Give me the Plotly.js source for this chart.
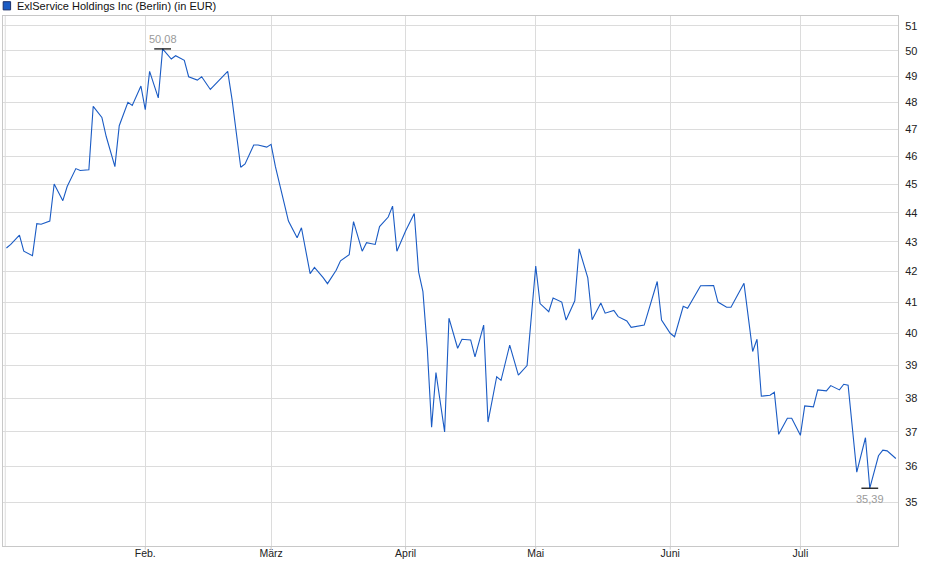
<!DOCTYPE html>
<html>
<head>
<meta charset="utf-8">
<script src="https://cdn.plot.ly/plotly-3.0.1.min.js"></script>
<style>
  html, body { margin: 0; padding: 0; background: #fff; }
  #chart { width: 940px; height: 579px; }
</style>
</head>
<body>
<div id="chart"></div>
<script>
// Kursdaten
const dates = [
  '2023-12-31','2024-01-01','2024-01-03','2024-01-04','2024-01-06','2024-01-07','2024-01-08','2024-01-10',
  '2024-01-11','2024-01-13','2024-01-14','2024-01-16','2024-01-17','2024-01-19','2024-01-20','2024-01-22',
  '2024-01-23','2024-01-25','2024-01-26','2024-01-28','2024-01-29','2024-01-31','2024-02-01','2024-02-02',
  '2024-02-04','2024-02-05','2024-02-07','2024-02-08','2024-02-10','2024-02-11','2024-02-13','2024-02-14',
  '2024-02-16','2024-02-20','2024-02-21','2024-02-23','2024-02-24','2024-02-26','2024-02-27','2024-02-29',
  '2024-03-01','2024-03-02','2024-03-04','2024-03-05','2024-03-07','2024-03-08','2024-03-10','2024-03-11',
  '2024-03-13','2024-03-14','2024-03-16','2024-03-17','2024-03-19','2024-03-20','2024-03-22','2024-03-23',
  '2024-03-25','2024-03-26','2024-03-28','2024-03-29','2024-03-30','2024-04-01','2024-04-03','2024-04-04',
  '2024-04-05','2024-04-06','2024-04-07','2024-04-08','2024-04-10','2024-04-11','2024-04-13','2024-04-14',
  '2024-04-16','2024-04-17','2024-04-19','2024-04-20','2024-04-22','2024-04-23','2024-04-25','2024-04-27',
  '2024-04-29','2024-05-01','2024-05-02','2024-05-04','2024-05-05','2024-05-07','2024-05-08','2024-05-10',
  '2024-05-11','2024-05-13','2024-05-14','2024-05-16','2024-05-17','2024-05-19','2024-05-20','2024-05-22',
  '2024-05-23','2024-05-24','2024-05-26','2024-05-29','2024-05-30','2024-06-01','2024-06-02','2024-06-04',
  '2024-06-05','2024-06-08','2024-06-11','2024-06-12','2024-06-14','2024-06-15','2024-06-17','2024-06-18',
  '2024-06-20','2024-06-21','2024-06-22','2024-06-24','2024-06-25','2024-06-26','2024-06-28','2024-06-29',
  '2024-07-01','2024-07-02','2024-07-04','2024-07-05','2024-07-07','2024-07-08','2024-07-10','2024-07-11',
  '2024-07-12','2024-07-14','2024-07-16','2024-07-17','2024-07-19','2024-07-20','2024-07-21','2024-07-23'
];
const prices = [
  42.79, 42.91, 43.23, 42.68, 42.53, 43.62, 43.60, 43.71,
  45.01, 44.42, 44.92, 45.56, 45.49, 45.52, 47.86, 47.44,
  46.73, 45.63, 47.13, 48.01, 47.89, 48.63, 47.73, 49.20,
  48.18, 50.08, 49.68, 49.81, 49.63, 48.99, 48.86, 48.99,
  48.50, 49.20, 48.12, 45.61, 45.73, 46.42, 46.42, 46.34,
  46.44, 45.63, 44.34, 43.71, 43.14, 43.48, 41.93, 42.14,
  41.80, 41.60, 42.04, 42.36, 42.56, 43.69, 42.68, 42.97,
  42.91, 43.52, 43.85, 44.23, 42.68, 43.37, 43.97, 41.99,
  41.34, 39.53, 37.14, 38.78, 37.00, 40.48, 39.53, 39.81,
  39.79, 39.26, 40.26, 37.29, 38.65, 38.54, 39.63, 38.70,
  38.99, 42.18, 40.95, 40.69, 41.13, 41.00, 40.42, 41.04,
  42.76, 41.79, 40.43, 40.97, 40.64, 40.73, 40.53, 40.39,
  40.19, 40.21, 40.26, 41.67, 40.42, 40.00, 39.89, 40.86,
  40.80, 41.53, 41.54, 41.00, 40.83, 40.83, 41.34, 41.61,
  39.43, 39.81, 38.06, 38.09, 38.18, 36.93, 37.40, 37.40,
  36.90, 37.77, 37.74, 38.25, 38.22, 38.38, 38.25, 38.42,
  38.39, 35.84, 36.83, 35.39, 36.31, 36.47, 36.45, 36.23
];

const monthTicks = ['2024-02-01','2024-03-01','2024-04-01','2024-05-01','2024-06-01','2024-07-01'];
const monthLabels = ['Feb.','März','April','Mai','Juni','Juli'];
const priceTicks = [35,36,37,38,39,40,41,42,43,44,45,46,47,48,49,50,51];
const seriesName = 'ExlService Holdings Inc (Berlin) (in EUR)';

const hiVal = Math.max(...prices);
const loVal = Math.min(...prices);
const hiDate = dates[prices.indexOf(hiVal)];
const loDate = dates[prices.indexOf(loVal)];
const fmt = v => v.toFixed(2).replace('.', ',');

const font = 'Liberation Sans, Arial, sans-serif';

const line = {
  type: 'scatter',
  mode: 'lines',
  x: dates,
  y: prices,
  line: {color: '#1a5bc4', width: 1.1},
  hoverinfo: 'x+y',
  showlegend: false
};

const extremes = {
  type: 'scatter',
  mode: 'markers',
  x: [hiDate, loDate],
  y: [hiVal, loVal],
  marker: {symbol: 'line-ew', size: 12, line: {width: 1.2, color: '#000'}},
  hoverinfo: 'skip',
  showlegend: false
};

const layout = {
  width: 940,
  height: 579,
  margin: {l: 3, r: 42, t: 16, b: 33},
  paper_bgcolor: '#fff',
  plot_bgcolor: '#fff',
  font: {family: font, size: 11, color: '#222'},
  xaxis: {
    type: 'date',
    range: ['2023-12-30 05:00', '2024-07-23 12:00'],
    tickvals: monthTicks,
    ticktext: monthLabels,
    showgrid: true,
    gridcolor: '#dcdcdc',
    gridwidth: 1,
    ticks: '',
    ticklabelstandoff: -3,
    showline: true,
    linecolor: '#c8c8c8',
    mirror: true,
    zeroline: false,
    tickfont: {family: font, size: 10.5, color: '#222'}
  },
  yaxis: {
    type: 'log',
    side: 'right',
    range: [Math.log10(33.81), Math.log10(51.40)],
    tickvals: priceTicks,
    ticktext: priceTicks.map(String),
    showgrid: true,
    gridcolor: '#dcdcdc',
    gridwidth: 1,
    ticks: '',
    ticklabelstandoff: 4,
    showline: true,
    linecolor: '#c8c8c8',
    mirror: true,
    zeroline: false,
    tickfont: {family: font, size: 11, color: '#222'}
  },
  shapes: [
    // Legendenkästchen
    {type: 'rect', xref: 'paper', yref: 'paper',
     x0: 0.0002, x1: 0.0085, y0: 1.0115, y1: 1.0270,
     fillcolor: '#1a5bc4', line: {color: '#1b2f6a', width: 1}},
    // zweite Linie am linken Rand
    {type: 'line', xref: 'paper', yref: 'paper',
     x0: 0.0025, x1: 0.0025, y0: 0, y1: 1,
     line: {color: '#dcdcdc', width: 1}},
    // kleine Monatsstriche unter der Achse
    ...monthTicks.map(d => ({type: 'line', xref: 'x', yref: 'paper',
     x0: d, x1: d, y0: 0, y1: -0.007, line: {color: '#c8c8c8', width: 1}}))
  ],
  annotations: [
    {xref: 'paper', yref: 'paper', x: 0.0135, y: 1.0195,
     xanchor: 'left', yanchor: 'middle', showarrow: false,
     text: seriesName, font: {family: font, size: 11, color: '#111'}},
    {x: hiDate, y: Math.log10(hiVal), xanchor: 'center', yanchor: 'bottom',
     yshift: 2, showarrow: false, text: fmt(hiVal),
     font: {family: font, size: 11, color: '#9a9a9a'}},
    {x: loDate, y: Math.log10(loVal), xanchor: 'center', yanchor: 'top',
     yshift: -3, showarrow: false, text: fmt(loVal),
     font: {family: font, size: 11, color: '#9a9a9a'}}
  ]
};

Plotly.newPlot('chart', [line, extremes], layout, {displayModeBar: false, staticPlot: true});
</script>
</body>
</html>
